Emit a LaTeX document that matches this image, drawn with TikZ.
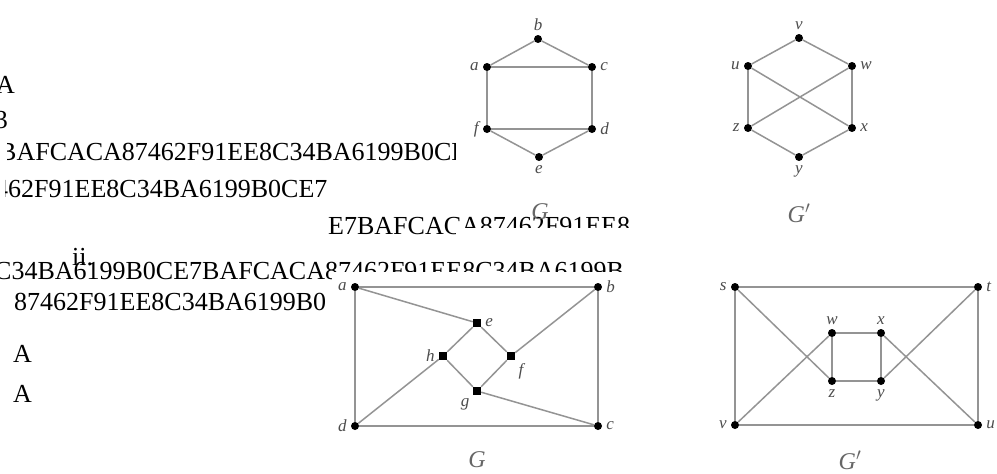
\documentclass[tikz,border=0pt]{standalone}
\usepackage{fontspec}
\setmainfont{Liberation Serif}
\usetikzlibrary{positioning}

\begin{document}
\begin{tikzpicture}[
    x=1pt, y=-1pt,
    label distance=3pt,
    vertex/.style={circle, fill=black, inner sep=0pt, minimum size=8pt},
    sqvertex/.style={rectangle, fill=black, inner sep=0pt, minimum size=8pt},
    edge/.style={draw=black!42, line width=1.5pt},
    lbl/.style={font=\fontsize{17}{19}\selectfont\itshape, text=black!70, inner sep=1pt},
    gname/.style={font=\fontsize{24}{26}\selectfont\itshape, text=black!60},
    scantext/.style={font=\fontsize{26}{28}\selectfont, anchor=base west, inner sep=0pt}
]

\fill[white] (0,0) rectangle (997,474);
\useasboundingbox (0,0) rectangle (997,474);

% scanned text lines
\node[scantext, anchor=base east] (t0) at (15,93) {A};
\node[scantext, anchor=base east] (t00) at (8,128) {3};
\begin{scope}
  \clip (7,0) rectangle (455,474);
  \node[scantext] (t1) at (-1,160) {BAFCACA87462F91EE8C34BA6199B0CE7};
\end{scope}
\begin{scope}
  \clip (5,0) rectangle (455,474);
  \node[scantext] (t2) at (-5,197) {462F91EE8C34BA6199B0CE7};
\end{scope}
\begin{scope}
  \clip (0,0) rectangle (455,474) (455,0) rectangle (997,227);
  \node[scantext] (t3) at (328,234) {E7BAFCACA87462F91EE8};
\end{scope}
\node[scantext] (t4) at (72,265) {ii.};
\begin{scope}
  \clip (0,0) rectangle (331,474) (331,0) rectangle (997,271);
  \node[scantext] (t5) at (-6,279) {C34BA6199B0CE7BAFCACA87462F91EE8C34BA6199B};
\end{scope}
\node[scantext] (t6) at (14,310) {87462F91EE8C34BA6199B0};
\node[scantext] (t7) at (13,362) {A};
\node[scantext] (t8) at (13,402) {A};

% top left: G
\node[vertex, label={[lbl]above:b}] (b1) at (538,39) {};
\node[vertex, label={[lbl]left:a}] (a1) at (487,67) {};
\node[vertex, label={[lbl]right:c}] (c1) at (592,67) {};
\node[vertex, label={[lbl]left:f}] (f1) at (487,129) {};
\node[vertex, label={[lbl]right:d}] (d1) at (592,129) {};
\node[vertex, label={[lbl]below:e}] (e1) at (539,157) {};
\node[gname] (g1) at (540,212) {G};

\draw[edge] (a1) -- (b1);
\draw[edge] (b1) -- (c1);
\draw[edge] (a1) -- (c1);
\draw[edge] (a1) -- (f1);
\draw[edge] (c1) -- (d1);
\draw[edge] (f1) -- (d1);
\draw[edge] (f1) -- (e1);
\draw[edge] (e1) -- (d1);

% top right: G'
\node[vertex, label={[lbl]above:v}] (v1) at (799,38) {};
\node[vertex, label={[lbl]left:u}] (u1) at (748,66) {};
\node[vertex, label={[lbl]right:w}] (w1) at (852,66) {};
\node[vertex, label={[lbl]left:z}] (z1) at (748,128) {};
\node[vertex, label={[lbl]right:x}] (x1) at (852,128) {};
\node[vertex, label={[lbl]below:y}] (y1) at (799,157) {};
\node[gname] (g2) at (799,213) {G$'$};

\draw[edge] (u1) -- (v1);
\draw[edge] (v1) -- (w1);
\draw[edge] (u1) -- (z1);
\draw[edge] (w1) -- (x1);
\draw[edge] (u1) -- (x1);
\draw[edge] (w1) -- (z1);
\draw[edge] (z1) -- (y1);
\draw[edge] (x1) -- (y1);

% bottom left: G
\node[vertex, label={[lbl]left:a}] (a2) at (355,287) {};
\node[vertex, label={[lbl]right:b}] (b2) at (598,287) {};
\node[vertex, label={[lbl]left:d}] (d2) at (355,426) {};
\node[vertex, label={[lbl]right:c}] (c2) at (598,426) {};
\node[sqvertex, label={[lbl]right:e}] (e2) at (477,323) {};
\node[sqvertex, label={[lbl]left:h}] (h2) at (443,356) {};
\node[sqvertex, label={[lbl]below right:f}] (f2) at (511,356) {};
\node[sqvertex, label={[lbl]below left:g}] (g2v) at (477,391) {};
\node[gname] (g3) at (477,460) {G};

\draw[edge] (a2) -- (b2);
\draw[edge] (a2) -- (d2);
\draw[edge] (b2) -- (c2);
\draw[edge] (d2) -- (c2);
\draw[edge] (a2) -- (e2);
\draw[edge] (e2) -- (h2);
\draw[edge] (e2) -- (f2);
\draw[edge] (h2) -- (g2v);
\draw[edge] (f2) -- (g2v);
\draw[edge] (h2) -- (d2);
\draw[edge] (f2) -- (b2);
\draw[edge] (g2v) -- (c2);

% bottom right: G'
\node[vertex, label={[lbl]left:s}] (s2) at (735,287) {};
\node[vertex, label={[lbl]right:t}] (t2v) at (978,287) {};
\node[vertex, label={[lbl]left:v}] (v2) at (735,425) {};
\node[vertex, label={[lbl]right:u}] (u2) at (978,425) {};
\node[vertex, label={[lbl]above:w}] (w2) at (832,333) {};
\node[vertex, label={[lbl]above:x}] (x2) at (881,333) {};
\node[vertex, label={[lbl]below:z}] (z2) at (832,381) {};
\node[vertex, label={[lbl]below:y}] (y2) at (881,381) {};
\node[gname] (g4) at (850,460) {G$'$};

\draw[edge] (s2) -- (t2v);
\draw[edge] (s2) -- (v2);
\draw[edge] (t2v) -- (u2);
\draw[edge] (v2) -- (u2);
\draw[edge] (s2) -- (z2);
\draw[edge] (v2) -- (w2);
\draw[edge] (x2) -- (u2);
\draw[edge] (y2) -- (t2v);
\draw[edge] (w2) -- (x2);
\draw[edge] (w2) -- (z2);
\draw[edge] (x2) -- (y2);
\draw[edge] (z2) -- (y2);

\end{tikzpicture}
\end{document}
